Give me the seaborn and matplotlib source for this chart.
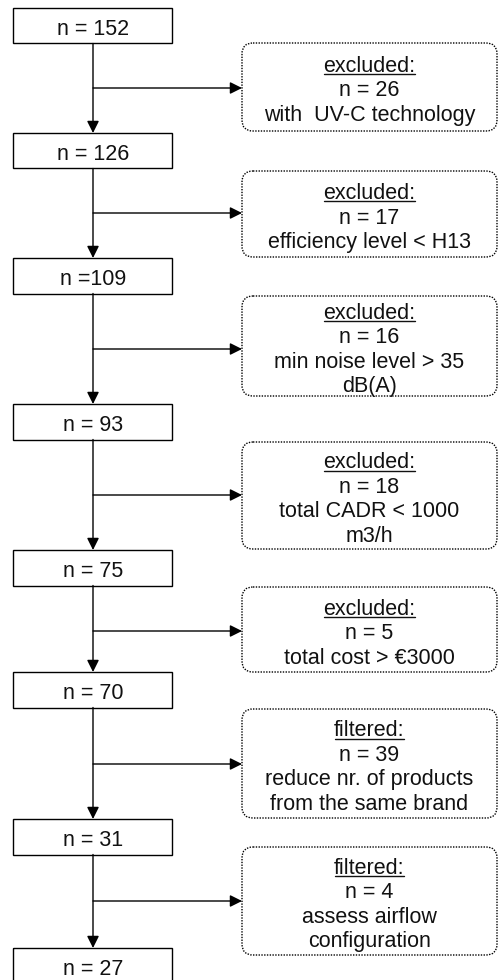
import matplotlib
matplotlib.use("Agg")
import matplotlib.pyplot as plt
from matplotlib.patches import Rectangle, FancyBboxPatch
import seaborn as sns

# data of the flow chart
main_labels = ["n = 152", "n = 126", "n =109", "n = 93", "n = 75", "n = 70", "n = 31", "n = 27"]
step_kind = ["excluded", "excluded", "excluded", "excluded", "excluded", "filtered", "filtered"]
step_n = [26, 17, 16, 18, 5, 39, 4]
step_reason = [
    ["with  UV-C technology"],
    ["efficiency level < H13"],
    ["min noise level > 35", "dB(A)"],
    ["total CADR < 1000", "m3/h"],
    ["total cost > €3000"],
    ["reduce nr. of products", "from the same brand"],
    ["assess airflow", "configuration"],
]

# layout (pixels, y going down)
main_top = [8, 133, 258, 404, 550, 672, 819, 948]
main_h = 35.5
main_x0, main_x1 = 13, 172
spine_x = 93
side_top = [43, 171, 296, 442, 587, 709, 847]
side_bot = [131, 257, 396, 549, 672, 818, 955]
arrow_y = [88, 213, 349, 495, 631, 764, 901]
side_x0, side_x1 = 242, 497

sns.set_theme(style="white")
plt.rcParams['font.family'] = ['Liberation Sans', 'DejaVu Sans']

fs = 15.5
line_step = 24.5
ink = '#111111'

fig = plt.figure(figsize=(4.99, 9.8), dpi=100)
ax = fig.add_axes([0, 0, 1, 1])
ax.set_xlim(0, 499)
ax.set_ylim(980, 0)
ax.axis('off')

arrow_kw = dict(arrowstyle='-|>,head_length=0.4,head_width=0.2', mutation_scale=18,
                color='black', lw=1.0, shrinkA=0, shrinkB=0)

# main boxes
for lab, top in zip(main_labels, main_top):
    ax.add_patch(Rectangle((main_x0, top), main_x1 - main_x0, main_h,
                           fill=False, ec='black', lw=1.0))
    ax.text(spine_x, top + main_h / 2 + 9, lab, ha='center', va='baseline',
            fontsize=fs, color=ink)

# vertical arrows between main boxes
for i in range(len(main_top) - 1):
    ax.annotate("", xy=(spine_x, main_top[i + 1]), xytext=(spine_x, main_top[i] + main_h),
                arrowprops=arrow_kw)

# side boxes
headers = []
for i in range(len(step_n)):
    top, bot = side_top[i], side_bot[i]
    ax.add_patch(FancyBboxPatch((side_x0, top), side_x1 - side_x0, bot - top,
                                boxstyle="round,pad=0,rounding_size=11",
                                fill=False, ec='black', lw=1.0,
                                linestyle=(0, (1, 1))))
    ax.annotate("", xy=(side_x0, arrow_y[i]), xytext=(spine_x, arrow_y[i]),
                arrowprops=arrow_kw)
    lines = [step_kind[i] + ":", f"n = {step_n[i]}"] + step_reason[i]
    nl = len(lines)
    mid = (top + bot) / 2
    block = (nl - 1) * line_step + 20
    base0 = mid - block / 2 + 15.5 + 4
    cx = (side_x0 + side_x1) / 2
    for j, s in enumerate(lines):
        t = ax.text(cx, base0 + j * line_step, s, ha='center', va='baseline',
                    fontsize=fs, color=ink)
        if j == 0:
            headers.append((t, base0))

# underline the headers
fig.canvas.draw()
r = fig.canvas.get_renderer()
inv = ax.transData.inverted()
for t, base in headers:
    bb = t.get_window_extent(r)
    (xa, _), (xb, _) = inv.transform([(bb.x0, bb.y0), (bb.x1, bb.y1)])
    ax.plot([xa + 1, xb - 1], [base + 2.5, base + 2.5], color=ink, lw=1.0)

fig.savefig('out.png', dpi=100)
